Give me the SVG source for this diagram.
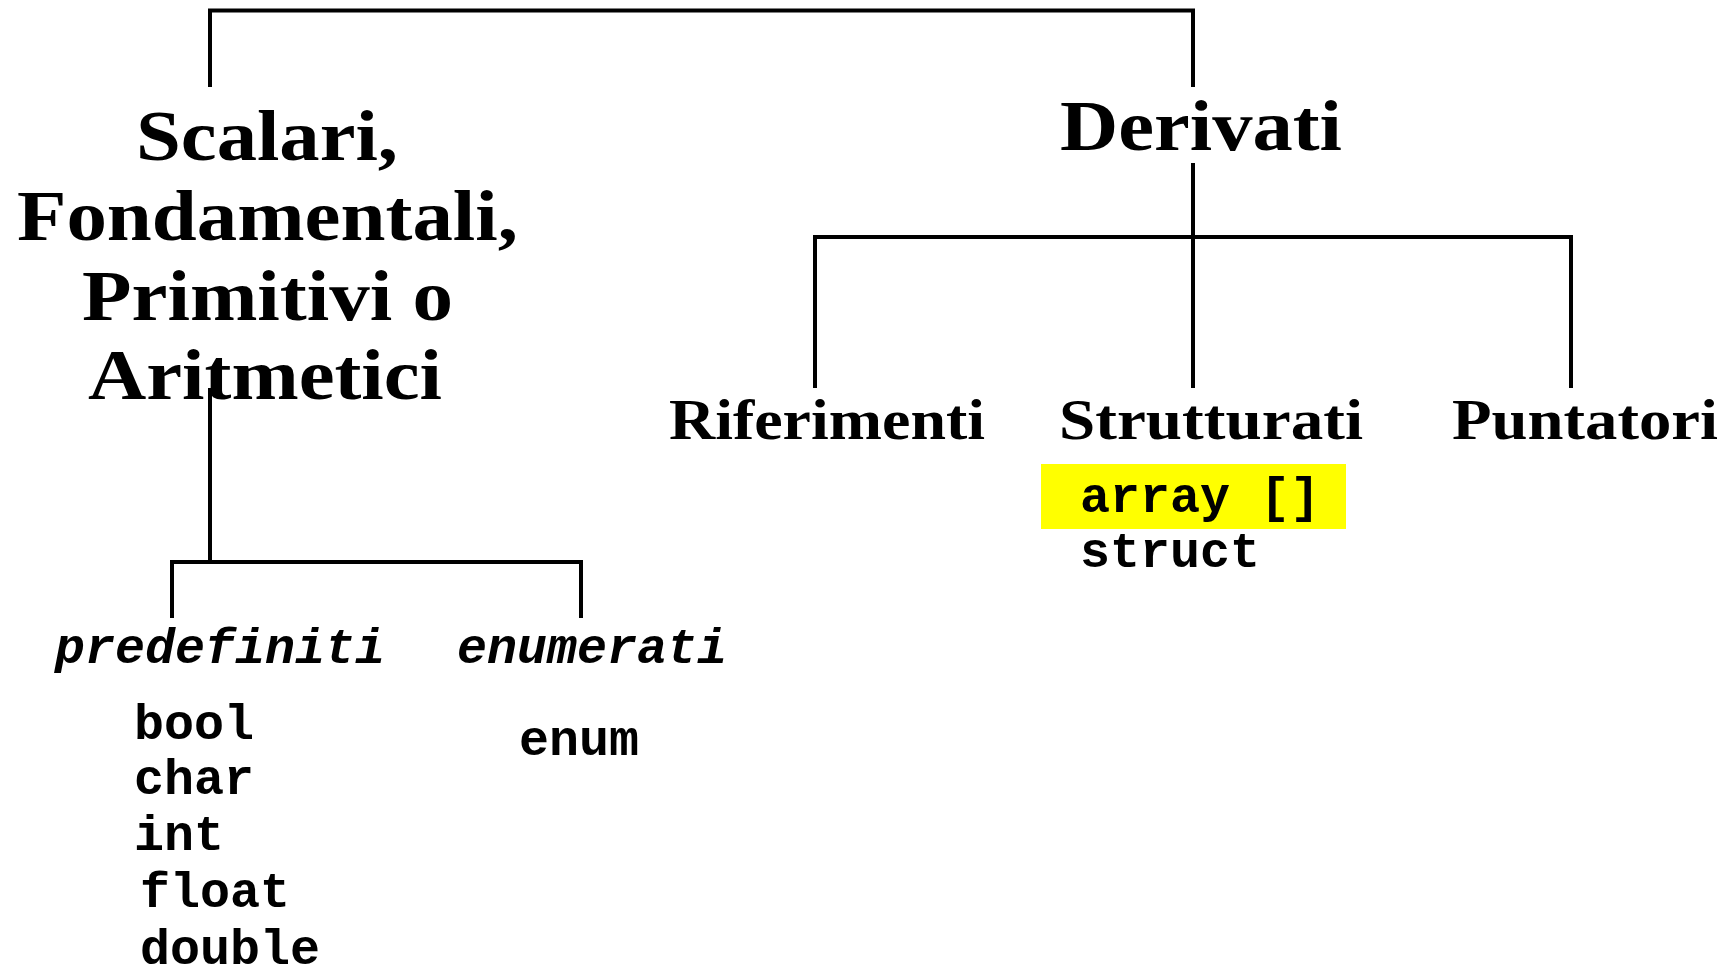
<svg xmlns="http://www.w3.org/2000/svg" width="1735" height="971" viewBox="0 0 1735 971">
<style>
.ttl{font-family:"Liberation Serif","Times New Roman",serif;font-weight:bold;font-size:72px;fill:#000}
.lbl{font-family:"Liberation Serif","Times New Roman",serif;font-weight:bold;font-size:56px;fill:#000}
.mono{font-family:"Liberation Mono","Courier New",monospace;font-weight:bold;font-size:50px;fill:#000}
.it{font-style:italic}
.ln{fill:none;stroke:#000;stroke-width:4;stroke-linejoin:miter;stroke-linecap:butt}
</style>
<rect width="1735" height="971" fill="#fff"/>
<g id="connectors">
<path class="ln" d="M210,87 V10.5 H1193 V87"/>
<path class="ln" d="M1193,163 V388"/>
<path class="ln" d="M815,388 V237 H1571 V388" stroke-width="4.5"/>
<path class="ln" d="M210,388 V562"/>
<path class="ln" d="M172,618 V562 H581 V618"/>
</g>
<g id="scalari">
<text class="ttl" x="136" y="160" textLength="262" lengthAdjust="spacingAndGlyphs">Scalari,</text>
<text class="ttl" x="17" y="240" textLength="501" lengthAdjust="spacingAndGlyphs">Fondamentali,</text>
<text class="ttl" x="82" y="320" textLength="371" lengthAdjust="spacingAndGlyphs">Primitivi o</text>
<text class="ttl" x="88" y="399" textLength="354" lengthAdjust="spacingAndGlyphs">Aritmetici</text>
</g>
<g id="derivati">
<text class="ttl" x="1060" y="150" textLength="282" lengthAdjust="spacingAndGlyphs">Derivati</text>
</g>
<g id="riferimenti">
<text class="lbl" x="669" y="439" textLength="316" lengthAdjust="spacingAndGlyphs">Riferimenti</text>
</g>
<g id="strutturati">
<text class="lbl" x="1059" y="439" textLength="304" lengthAdjust="spacingAndGlyphs">Strutturati</text>
<rect x="1041" y="464" width="305" height="65" fill="#ffff00"/>
<text class="mono" x="1080" y="512">array []</text>
<text class="mono" x="1080" y="567">struct</text>
</g>
<g id="puntatori">
<text class="lbl" x="1452" y="439" textLength="266" lengthAdjust="spacingAndGlyphs">Puntatori</text>
</g>
<g id="predefiniti">
<text class="mono it" x="55" y="663">predefiniti</text>
<text class="mono" x="134" y="739">bool</text>
<text class="mono" x="134" y="794">char</text>
<text class="mono" x="134" y="850">int</text>
<text class="mono" x="140" y="907">float</text>
<text class="mono" x="140" y="964">double</text>
</g>
<g id="enumerati">
<text class="mono it" x="457" y="663">enumerati</text>
<text class="mono" x="519" y="755">enum</text>
</g>
</svg>
